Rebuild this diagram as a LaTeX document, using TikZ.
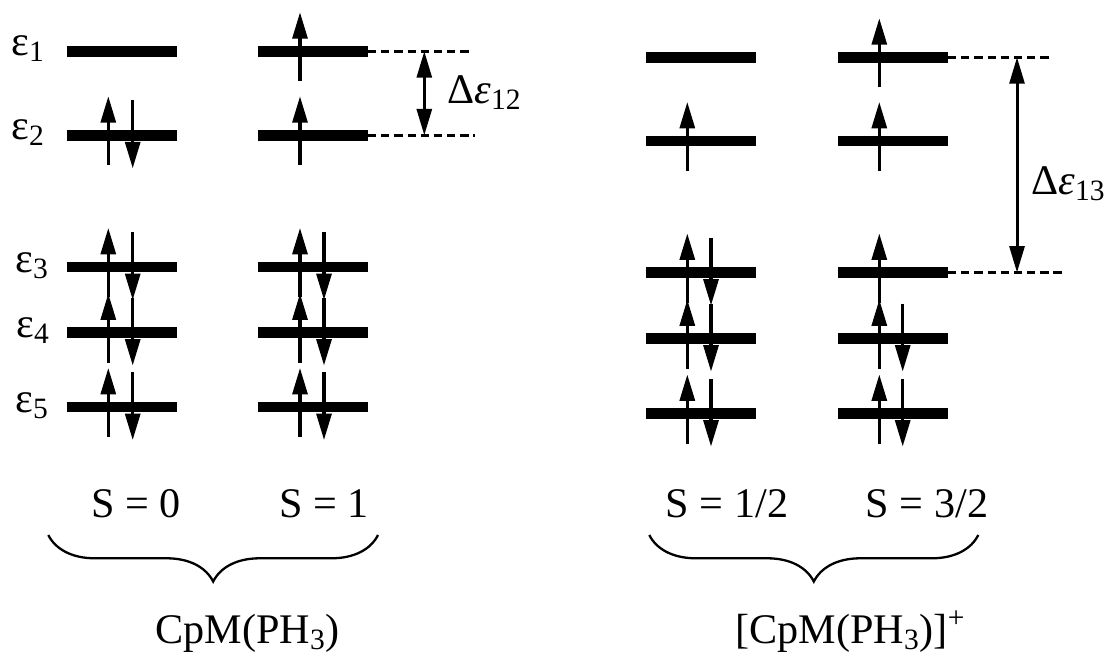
\documentclass[tikz,border=0pt]{standalone}
\usepackage{fontspec}
\setmainfont{Liberation Serif}
\usetikzlibrary{arrows.meta,decorations.pathreplacing}

% one electron drawn on a level at (x,y): spin up / spin down
\newcommand{\spinup}[2]{\draw[spin] (#1,#2+30) -- (#1,#2-39);}
\newcommand{\spindown}[2]{\draw[spin] (#1,#2-35) -- (#1,#2+33);}

\begin{document}
\begin{tikzpicture}[x=.02cm,y=-.02cm,font=\fontsize{24}{28}\selectfont,
    level/.style={line width=6pt},
    spin/.style={line width=1.8pt,-{Triangle[length=15pt,width=8.5pt]}},
    gap/.style={line width=1.7pt,
      {Triangle[length=15pt,width=8.5pt]}-{Triangle[length=15pt,width=8.5pt]}},
    guide/.style={line width=1.5pt,dash pattern=on 4.7pt off 2.8pt},
    curly/.style={line width=1.3pt,decorate,
      decoration={brace,mirror,amplitude=26.5pt}},
    elabel/.style={anchor=base east,inner sep=0pt},
    dlabel/.style={anchor=base west,inner sep=0pt}]
  \useasboundingbox (0,0) rectangle (1111,659);

  % Neutral complex, S = 0 and S = 1.
  \node[elabel] (eps1) at (45,55) {ε\textsubscript{1}};
  \node[elabel] (eps2) at (45,139) {ε\textsubscript{2}};
  \node[elabel] (eps3) at (49,272) {ε\textsubscript{3}};
  \node[elabel] (eps4) at (50,337) {ε\textsubscript{4}};
  \node[elabel] (eps5) at (49,412) {ε\textsubscript{5}};
  \foreach \y in {51.3,135.3,267,332.5,407}{
    \draw[level] (67,\y) -- (177,\y);
    \draw[level] (258,\y) -- (368,\y);
  }
  \coordinate (a1) at (368,51.3);
  \coordinate (a2) at (368,135.3);
  \foreach \y in {135.3,267,332.5,407}{
    \spinup{108.3}{\y}
    \spindown{132.7}{\y}
  }
  \spinup{300}{51.3}
  \spinup{300}{135.3}
  \foreach \y in {267,332.5,407}{
    \spinup{300}{\y}
    \spindown{324}{\y}
  }
  % Gap between the two upper levels.
  \draw[guide] (a1) -- ++(104,0);
  \draw[guide] (a2) -- ++(107,0);
  \coordinate (g12a) at (424.3,51.3);
  \coordinate (g12b) at (424.3,135.3);
  \draw[gap] (g12a) -- (g12b);
  \node[dlabel] (d12) at (447,103) {Δ\textit{ε}\textsubscript{12}};

  % Cation, S = 1/2 and S = 3/2.
  \foreach \y in {57.3,141,272.5,338.5,413.5}{
    \draw[level] (646,\y) -- (756,\y);
    \draw[level] (838,\y) -- (948,\y);
  }
  \coordinate (c1) at (948,57.3);
  \coordinate (c3) at (948,272.5);
  \spinup{687.3}{141}
  \foreach \y in {272.5,338.5,413.5}{
    \spinup{687.3}{\y}
    \spindown{711}{\y}
  }
  \foreach \y in {57.3,141,272.5}{
    \spinup{879.3}{\y}
  }
  \foreach \y in {338.5,413.5}{
    \spinup{879.3}{\y}
    \spindown{902.7}{\y}
  }
  \draw[guide] (c1) -- ++(105,0);
  \draw[guide] (c3) -- ++(114,0);
  \coordinate (g13a) at (1017,57.3);
  \coordinate (g13b) at (1017,272.5);
  \draw[gap] (g13a) -- (g13b);
  \node[dlabel] (d13) at (1031,194) {Δ\textit{ε}\textsubscript{13}};

  % Spin states and braces.
  \node[anchor=base] (s0) at (136,517) {S = 0};
  \node[anchor=base] (s1) at (324,517) {S = 1};
  \node[anchor=base] (s12) at (727,517) {S = 1/2};
  \node[anchor=base] (s32) at (927,517) {S = 3/2};
  \draw[curly] (48.3,535) -- (378,535);
  \draw[curly] (649.3,535) -- (978.3,535);
  \node[anchor=base west,inner sep=0pt] (neutral) at (155,643)
    {CpM(PH\textsubscript{3})};
  \node[anchor=base west,inner sep=0pt] (cation) at (735,643)
    {[CpM(PH\textsubscript{3})]\textsuperscript{+}};
\end{tikzpicture}
\end{document}
